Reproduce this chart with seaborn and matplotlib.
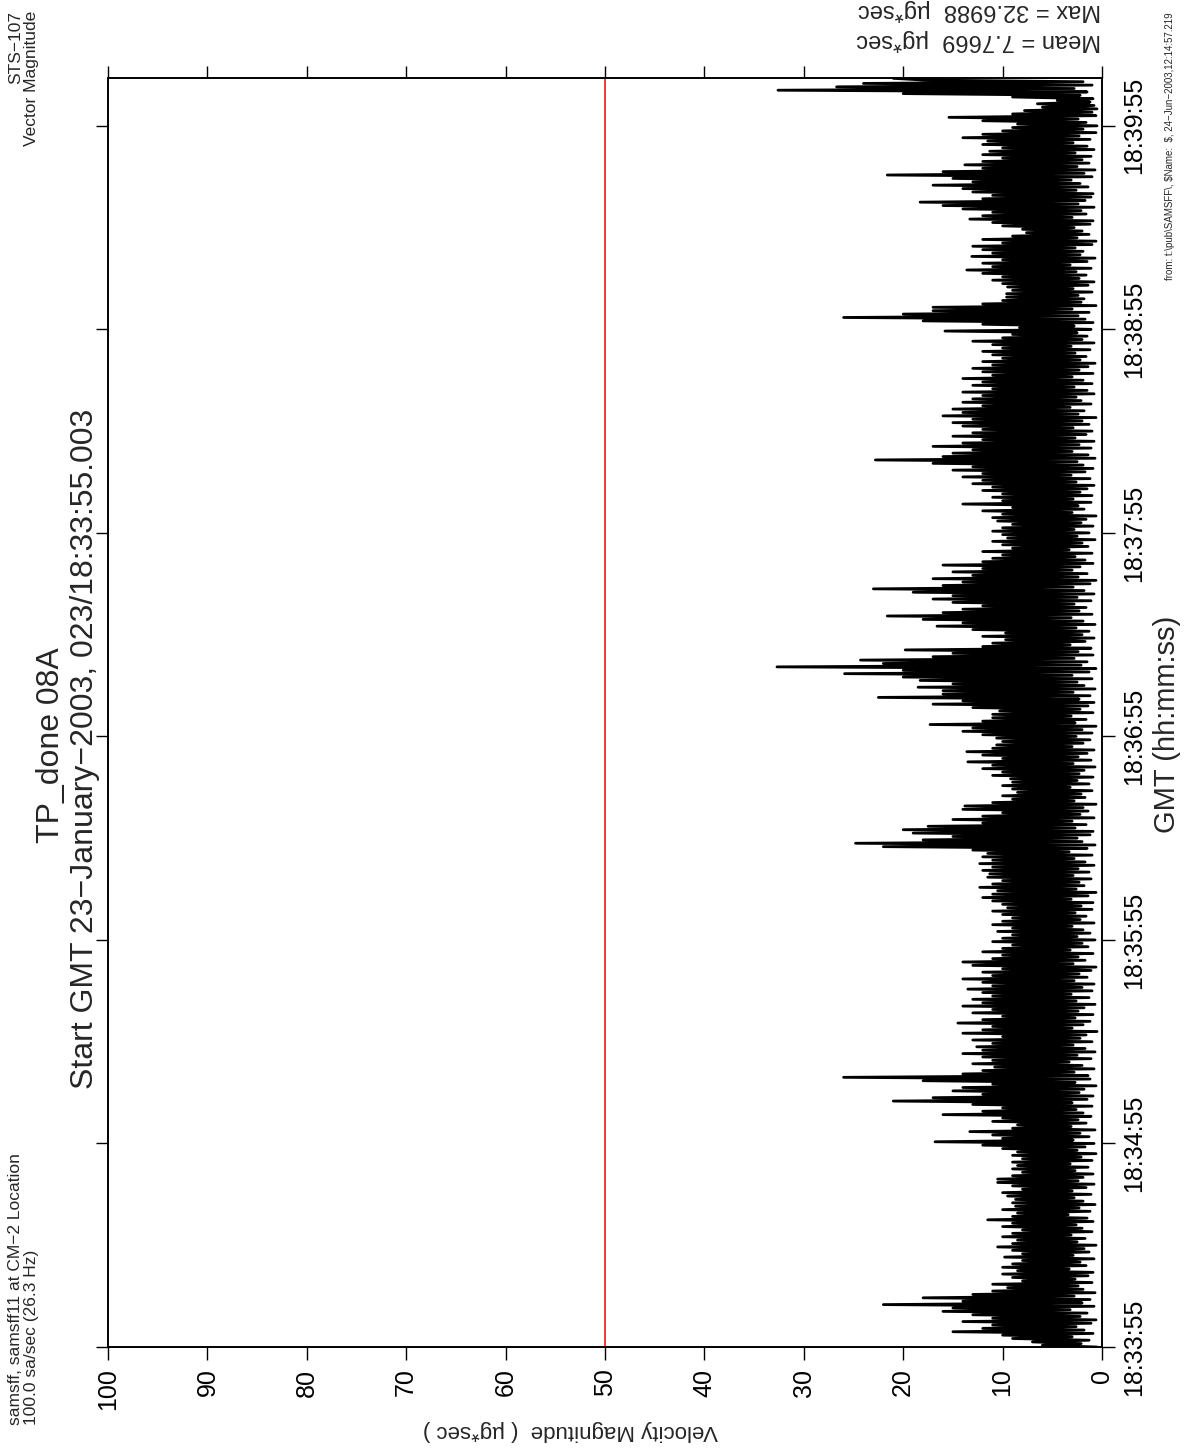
import numpy as np
import pandas as pd
import matplotlib
matplotlib.use("Agg")
import matplotlib.pyplot as plt
import seaborn as sns

# ---------------- data ----------------
# upper envelope of the velocity magnitude trace, one value per second (ug*sec)
hi = [
    6, 7, 9, 10, 15, 12, 11, 14, 11, 13,
    16, 15, 22, 14, 18, 13, 11, 9.5, 11, 8,
    9, 10, 8.5, 10, 9, 8, 9.8, 8, 9, 10.5,
    9, 8.5, 10, 9, 8, 10, 9, 11.5, 9, 8.5,
    10, 8.7, 9, 8.7, 9.5, 10, 8, 9, 10.5, 10.5,
    9, 8, 9, 8.5, 9, 8, 9, 8.5, 10, 12,
    16.8, 10, 11, 13.3, 9, 8.5, 11, 10, 16, 12,
    10, 13, 21, 17, 12, 15, 14, 11, 18, 26,
    14, 12, 10.8, 13, 11, 12, 14, 12, 12.6, 11,
    13, 10, 14, 12, 11, 14.5, 12, 10, 13, 11,
    14, 12, 13, 11, 12, 13.5, 11, 12, 14, 11,
    12, 10, 13, 14, 11, 10, 12, 10, 9, 11,
    10, 9, 10.5, 9, 11, 10, 9, 10, 11, 9.5,
    10, 11, 12, 11, 10.5, 12.3, 11, 10, 11.5, 11.3,
    12, 11, 12.3, 11, 12, 11.5, 13, 22, 24.8, 18,
    15, 19, 20, 17.5, 12, 15, 12, 10, 14, 13.8,
    11, 9, 10, 8.5, 9, 10, 9, 9.2, 11, 10,
    12, 11, 13.5, 10, 12, 13.6, 11, 10.6, 10, 10.6,
    12, 14, 13, 17.3, 12, 11, 11, 10.3, 13, 17,
    14, 22.5, 16, 16, 18.5, 15, 18.3, 20, 25.9, 20,
    32.7, 22, 24.3, 17, 15, 19.8, 12, 11, 9.7, 12,
    9.7, 13, 16.6, 14, 18, 21.6, 16, 14, 12, 15,
    17, 15, 19, 23, 16, 14, 17, 13, 15, 12,
    16, 12, 11, 10, 12, 9, 10, 11, 9.5, 10,
    11, 10, 9, 10.5, 11, 10, 12, 9, 14, 10,
    11, 10, 12, 11, 13, 12, 14, 12, 15, 13,
    17, 22.8, 16, 15, 13, 17, 14, 12, 15, 13,
    12, 14, 15, 13, 16, 14, 15, 12, 14, 13,
    12, 14, 11, 13, 12, 14, 11, 12, 13, 11,
    12, 10, 11, 12, 10, 11, 13, 10, 9, 15.8,
    8.3, 12, 18, 26, 20, 17, 17, 12, 10, 9.6,
    9.6, 9, 9.5, 10, 11, 10, 12, 13.6, 11, 12,
    10, 13.1, 11, 12, 13, 10, 12, 9, 7.6, 8,
    10, 11, 13.3, 12, 11, 14, 16, 18.3, 12, 11,
    13, 14, 17, 13, 15, 21.6, 16, 12, 13.8, 12,
    10, 12, 11.3, 10, 12, 11.5, 14, 12, 10, 9,
    8.5, 12, 15.4, 9, 7.8, 6, 6.5, 4.5, 9, 20,
    32.6, 26.7, 24, 18,
]
# lower envelope of the trace, one value per second (ug*sec)
lo = [
    0.5, 2.1, 1.3, 3.0, 0.9, 1.8, 2.6, 1.1, 0.6, 2.2,
    1.5, 3.2, 0.8, 2.0, 1.2, 2.8, 0.7, 1.9, 2.4, 1.0,
    2.7, 1.4, 0.9, 3.3, 1.6, 2.2, 0.8, 2.9, 1.3, 1.8,
    0.6, 2.5, 1.7, 3.1, 1.0, 2.0, 2.6, 0.9, 1.5, 3.4,
    1.2, 2.3, 0.7, 1.9, 2.8, 1.1, 3.0, 1.6, 0.8, 2.4,
    1.9, 0.9, 2.7, 1.4, 3.2, 1.0, 2.1, 0.6, 2.5, 1.7,
    0.8, 2.9, 1.3, 2.2, 0.7, 3.1, 1.6, 2.4, 1.1, 1.9,
    2.6, 1.0, 3.0, 1.5, 0.9, 2.3, 1.8, 0.6, 2.7, 1.2,
    1.4, 2.8, 0.8, 2.0, 3.3, 1.1, 2.5, 0.7, 1.7, 2.9,
    1.0, 2.2, 1.6, 0.5, 3.0, 1.9, 1.2, 2.7, 0.9, 2.4,
    1.8, 0.7, 2.6, 1.3, 3.1, 1.0, 2.0, 0.8, 2.8, 1.5,
    2.3, 1.1, 0.6, 2.9, 1.7, 2.4, 0.9, 3.2, 1.4, 2.0,
    0.7, 2.5, 1.2, 1.9, 3.0, 0.8, 2.2, 1.6, 2.7, 1.0,
    2.1, 0.9, 3.1, 1.4, 0.6, 2.6, 1.8, 2.3, 1.1, 2.9,
    1.3, 2.4, 0.8, 1.7, 2.8, 1.0, 3.3, 1.5, 0.7, 2.0,
    2.5, 1.2, 0.9, 2.7, 1.6, 3.0, 0.8, 2.2, 1.4, 1.9,
    0.6, 2.8, 1.7, 2.1, 1.0, 3.2, 1.3, 2.5, 0.9, 2.3,
    1.8, 0.7, 2.9, 1.1, 2.4, 1.5, 0.8, 3.0, 1.9, 1.2,
    2.6, 1.0, 2.0, 0.6, 2.7, 1.6, 3.1, 0.9, 2.2, 1.4,
    0.8, 2.3, 1.2, 2.9, 0.7, 1.8, 2.5, 1.0, 3.0, 1.3,
    0.6, 2.1, 1.5, 2.8, 0.9, 2.4, 1.1, 3.2, 1.7, 0.8,
    2.0, 1.3, 2.6, 0.7, 1.9, 3.1, 1.0, 2.3, 1.6, 2.8,
    1.1, 2.5, 0.8, 1.8, 2.9, 1.2, 0.6, 2.4, 1.5, 3.0,
    2.2, 0.9, 1.7, 2.7, 1.0, 3.3, 1.4, 2.0, 0.7, 2.5,
    1.3, 2.8, 0.9, 2.1, 1.6, 0.6, 3.0, 1.8, 2.4, 1.1,
    2.9, 1.0, 2.2, 1.5, 0.8, 2.6, 1.2, 3.1, 1.7, 0.9,
    1.9, 2.5, 0.7, 1.4, 3.0, 1.1, 2.3, 0.8, 2.7, 1.6,
    1.0, 2.9, 1.3, 2.0, 0.6, 2.4, 1.8, 3.2, 1.1, 2.1,
    2.6, 0.8, 1.5, 2.8, 1.0, 1.9, 3.0, 0.9, 2.3, 1.4,
    0.7, 2.2, 1.6, 2.7, 1.2, 3.1, 0.8, 2.0, 1.5, 2.5,
    1.1, 2.8, 0.9, 1.7, 2.4, 1.3, 3.0, 0.6, 2.1, 1.8,
    2.4, 1.0, 2.9, 1.4, 0.8, 2.3, 1.6, 2.6, 1.1, 3.2,
    1.5, 0.7, 2.2, 1.9, 2.7, 1.0, 0.6, 2.5, 1.3, 2.0,
    2.8, 1.2, 0.9, 3.0, 1.6, 2.1, 0.8, 2.4, 1.7, 1.1,
    0.9, 2.6, 1.4, 2.2, 3.1, 1.0, 1.8, 0.7, 2.5, 1.3,
    2.0, 1.1, 2.7, 0.8, 1.5, 2.9, 1.2, 2.3, 0.6, 1.9,
    0.5, 1.6, 2.4, 0.6, 1.0, 0.5, 0.8, 1.2, 0.9, 2.2,
    1.5, 2.8, 1.0, 1.9,
]
end_value = 21.0
time_tick_labels = ["18:33:55", "18:34:55", "18:35:55", "18:36:55",
                    "18:37:55", "18:38:55", "18:39:55"]
vel_ticks = [0, 10, 20, 30, 40, 50, 60, 70, 80, 90, 100]
threshold = 50
mean_val = 7.7669
max_val = 32.6988

# ---------------- build trace (alternating lower/upper envelope) ----------------
tt, vv = [], []
for k in range(len(hi)):
    tt += [k, k + 0.5]
    vv += [lo[k], hi[k]]
tt.append(float(len(hi)))
vv.append(end_value)
df = pd.DataFrame({"t": tt, "v": vv})

# ---------------- figure ----------------
sns.set_theme(style="ticks")
plt.rcParams["font.family"] = ["Liberation Sans", "DejaVu Sans"]
plt.rcParams["axes.unicode_minus"] = True

W, H = 1184, 1450
fig = plt.figure(figsize=(W / 100, H / 100), dpi=100)
fig.patch.set_facecolor("white")
L, R, T, B = 108, 1102, 78, 1347
ax = fig.add_axes([L / W, 1 - B / H, (R - L) / W, (B - T) / H])
ax.set_facecolor("white")

sns.lineplot(data=df, x="v", y="t", sort=False, estimator=None, orient="y",
             color="black", linewidth=2.0, ax=ax)
ax.axvline(threshold, color="red", linewidth=1.1)

ax.set_xlim(100, 0)
ax.set_ylim(0, 374.1)
ax.set_xticks(vel_ticks)
ax.set_xticklabels([str(v) for v in vel_ticks])
ax.set_yticks([60 * i for i in range(len(time_tick_labels))])
ax.set_yticklabels(time_tick_labels)
ax.set_xlabel("")
ax.set_ylabel("")

for s in ax.spines.values():
    s.set_visible(True)
    s.set_linewidth(1.4)
    s.set_color("black")

ax.tick_params(axis="x", which="both", direction="out", length=9, width=1.0,
               top=True, bottom=True, labeltop=False, labelbottom=True,
               labelsize=18, pad=6.5, labelrotation=90, colors="black")
ax.tick_params(axis="y", which="both", direction="out", length=9, width=1.0,
               left=True, right=True, labelleft=False, labelright=True,
               labelsize=18, pad=5.5, labelrotation=90, colors="black")
for lab in ax.get_yticklabels():
    lab.set_va("center")
    lab.set_ha("left")
for lab in ax.get_xticklabels():
    lab.set_va("top")
    lab.set_ha("center")

# ---------------- texts ----------------
def fx(px):
    return px / W

def fy(py):
    return 1 - py / H

fig.text(fx(51), fy(745), "TP_done 08A", rotation=90, ha="center", va="center",
         fontsize=23)
fig.text(fx(85), fy(749), "Start GMT 23\u2212January\u22122003, 023/18:33:55.003",
         rotation=90, ha="center", va="center", fontsize=23)

fig.text(fx(8), fy(1425), "samsff, samsff11 at CM\u22122 Location\n100.0 sa/sec (26.3 Hz)",
         rotation=90, ha="left", va="bottom", multialignment="left", fontsize=12.5,
         linespacing=1.05)
fig.text(fx(8), fy(11), "STS\u2212107\nVector Magnitude",
         rotation=90, ha="left", va="top", multialignment="right", fontsize=12.5,
         linespacing=1.05)

fig.text(fx(1153), fy(724), "GMT (hh:mm:ss)", rotation=90, ha="left", va="center",
         fontsize=21)
fig.text(fx(1165), fy(12),
         "from: t:\\pub\\SAMSFF\\, $Name:  $, 24\u2212Jun\u22122003,12:14:57.219",
         rotation=90, ha="left", va="top", fontsize=7, parse_math=False)

fig.text(fx(1101), fy(40), f"Mean = {mean_val:.4f}  \u00b5g*sec", rotation=180,
         ha="right", va="center", fontsize=17)
fig.text(fx(1101), fy(10), f"Max = {max_val:.4f}  \u00b5g*sec", rotation=180,
         ha="right", va="center", fontsize=17)

fig.text(fx(423), fy(1430), "Velocity Magnitude  ( \u00b5g*sec )", rotation=180,
         ha="left", va="center", fontsize=16)

fig.savefig("out.png", dpi=100, facecolor="white")
